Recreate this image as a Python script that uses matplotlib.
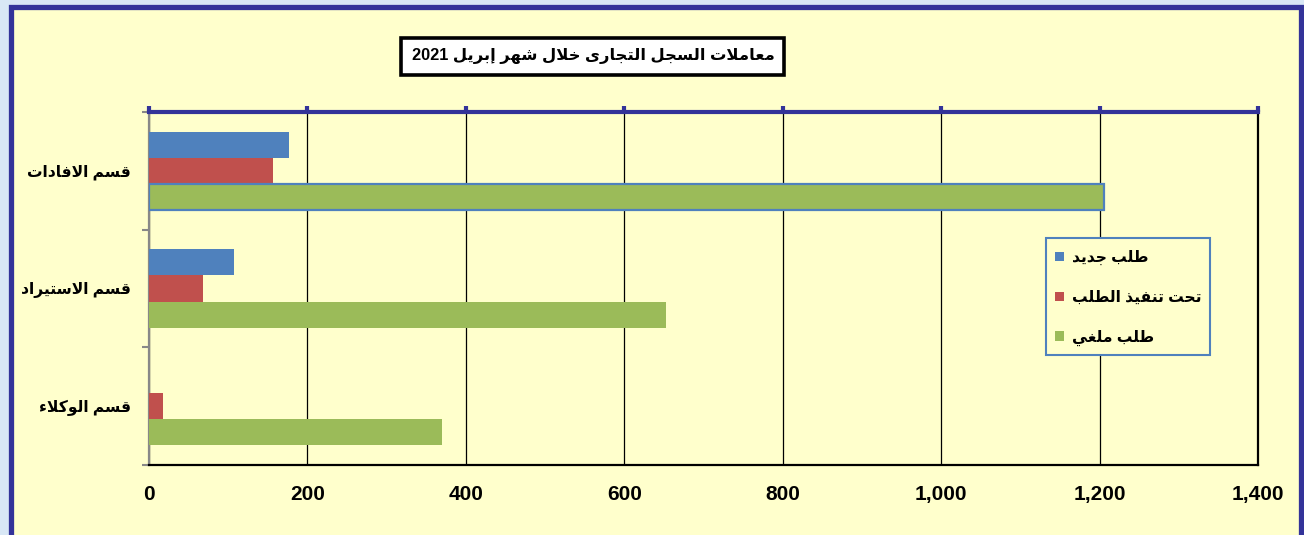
import matplotlib
matplotlib.use("Agg")
import matplotlib.pyplot as plt
from matplotlib.patches import Rectangle, Patch
import numpy as np

# ---------------- data ----------------
categories = ["قسم الافادات", "قسم الاستيراد", "قسم الوكلاء"]
series_names = ["طلب جديد", "تحت تنفيذ الطلب", "طلب ملغي"]
new_requests = [177, 107, 0]
in_progress = [157, 68, 18]
cancelled = [1206, 653, 370]
x_ticks = [0, 200, 400, 600, 800, 1000, 1200, 1400]
title_text = "معاملات السجل التجارى خلال شهر إبريل 2021"

colors = ["#4F81BD", "#C0504D", "#9BBB59"]

# ---------------- simple Arabic shaping ----------------
FORMS = {
    'ب': (0xFE8F, 'D'), 'ت': (0xFE95, 'D'), 'ج': (0xFE9D, 'D'), 'ح': (0xFEA1, 'D'),
    'خ': (0xFEA5, 'D'),
    'س': (0xFEB1, 'D'), 'ش': (0xFEB5, 'D'), 'ط': (0xFEC1, 'D'), 'ع': (0xFEC9, 'D'),
    'غ': (0xFECD, 'D'), 'ف': (0xFED1, 'D'), 'ق': (0xFED5, 'D'), 'ك': (0xFED9, 'D'),
    'ل': (0xFEDD, 'D'), 'م': (0xFEE1, 'D'), 'ن': (0xFEE5, 'D'), 'ه': (0xFEE9, 'D'),
    'ي': (0xFEF1, 'D'),
    'ا': (0xFE8D, 'R'), 'إ': (0xFE87, 'R'), 'د': (0xFEA9, 'R'), 'ذ': (0xFEAB, 'R'),
    'ر': (0xFEAD, 'R'), 'و': (0xFEED, 'R'), 'ى': (0xFEEF, 'R'),
    'ء': (0xFE80, 'U'), '\uFEFB': (0xFEFB, 'R'),
}


def shape_word(word):
    chars = []
    i = 0
    while i < len(word):
        if word[i] == 'ل' and i + 1 < len(word) and word[i + 1] == 'ا':
            chars.append('\uFEFB')
            i += 2
        else:
            chars.append(word[i])
            i += 1
    out = []
    for k, c in enumerate(chars):
        if c not in FORMS:
            out.append(c)
            continue
        base, t = FORMS[c]
        prev = chars[k - 1] if k > 0 else None
        nxt = chars[k + 1] if k + 1 < len(chars) else None
        jp = prev in FORMS and FORMS[prev][1] == 'D' and t in 'DR'
        jn = t == 'D' and nxt in FORMS and FORMS[nxt][1] in 'DR'
        if t == 'D':
            off = 3 if (jp and jn) else (2 if jn else (1 if jp else 0))
        elif t == 'R':
            off = 1 if jp else 0
        else:
            off = 0
        out.append(chr(base + off))
    return ''.join(out)


def ar(text):
    tokens = text.split(' ')
    shaped = []
    for t in tokens:
        if any(ch in FORMS for ch in t):
            shaped.append(shape_word(t)[::-1])
        else:
            shaped.append(t)
    return ' '.join(reversed(shaped))


# ---------------- figure ----------------
plt.rcParams['font.family'] = ['Liberation Sans', 'DejaVu Sans']
plt.rcParams['font.weight'] = 'bold'

W, H = 1304, 535
fig = plt.figure(figsize=(W / 100, H / 100), dpi=100)
fig.patch.set_facecolor("#D8E7F5")


def fx(px):
    return px / W


def fy(py):
    return 1 - py / H


# yellow panel with dark-blue border
panel = Rectangle((fx(10.5), -0.05), fx(1300.5 - 10.5), 1.05 - 7 / H,
                  transform=fig.transFigure, facecolor="#FFFFCC",
                  edgecolor="#333399", linewidth=3.8, zorder=-5)
fig.patches.append(panel)

left, right, top, bottom = 149, 1258, 112, 465
ax = fig.add_axes([fx(left), fy(bottom), fx(right - left), (bottom - top) / H])
ax.set_facecolor("#FFFFCC")

y = np.arange(len(categories))
bh = 0.221
all_series = [new_requests, in_progress, cancelled]
offsets = [-bh, 0, bh]
for vals, off, col in zip(all_series, offsets, colors):
    ax.barh(y + off, vals, height=bh, color=col, zorder=3, linewidth=0)

# highlighted outline on the largest bar
ax.barh(y[0] + bh, cancelled[0], height=bh, facecolor="none",
        edgecolor="#4F81BD", linewidth=1.6, zorder=4)

ax.set_xlim(0, 1400)
ax.set_ylim(2.5, -0.5)
ax.set_xticks(x_ticks)
ax.set_xticklabels([f"{v:,}" for v in x_ticks], fontsize=15, fontweight='bold')
ax.xaxis.grid(True, color="black", linewidth=0.9, zorder=1)
ax.set_axisbelow(True)

ax.tick_params(axis='x', which='major', top=True, bottom=False, labeltop=False,
               labelbottom=True, direction='out', length=4, width=3,
               color="#333399", pad=10.5)

ax.set_yticks(y)
ax.set_yticklabels([ar(c) for c in categories], fontsize=11.2, fontweight='bold')
ax.tick_params(axis='y', which='major', length=0, pad=13)
ax.set_yticks([-0.5, 0.5, 1.5, 2.5], minor=True)
ax.tick_params(axis='y', which='minor', length=5, width=1.5, color="#888888", left=True)

ax.spines['top'].set_color("#333399")
ax.spines['top'].set_linewidth(3)
ax.spines['bottom'].set_color("black")
ax.spines['bottom'].set_linewidth(1.6)
ax.spines['left'].set_color("#888888")
ax.spines['left'].set_linewidth(1.6)
ax.spines['right'].set_color("black")
ax.spines['right'].set_linewidth(1.6)

# title box
tb = Rectangle((fx(401), fy(75)), fx(784 - 401), (75 - 38) / H,
               transform=fig.transFigure, facecolor='white', edgecolor='black',
               linewidth=2.6, zorder=5)
fig.patches.append(tb)
fig.text(fx(593), fy(56), ar(title_text), ha='center', va='center',
         fontsize=11.8, fontweight='bold', color='black', zorder=6)

# legend box
lb = Rectangle((fx(1045.5), fy(355)), fx(1210 - 1045.5), (355 - 237.5) / H,
               transform=fig.transFigure, facecolor="#FFFFCC", edgecolor="#4F81BD",
               linewidth=1.5, zorder=5)
fig.patches.append(lb)
handles = [Patch(facecolor=c, edgecolor='none') for c in colors]
leg = fig.legend(handles, [ar(s) for s in series_names],
                 loc='center', bbox_to_anchor=(fx(1128), fy(298)),
                 bbox_transform=fig.transFigure, fontsize=11.2,
                 frameon=False, handlelength=0.6, handleheight=0.6,
                 handletextpad=0.5, labelspacing=1.6, borderpad=0,
                 borderaxespad=0)
leg.set_zorder(7)
for t in leg.get_texts():
    t.set_fontweight('bold')

fig.savefig("out.png", dpi=100, facecolor=fig.get_facecolor())
